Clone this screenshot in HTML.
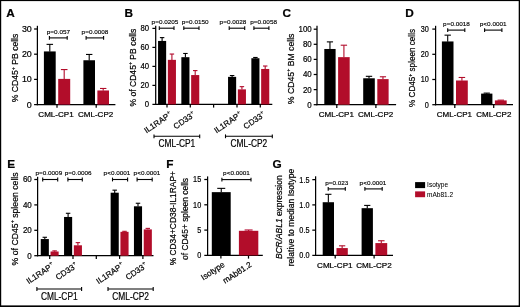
<!DOCTYPE html>
<html lang="en"><head><meta charset="utf-8"><title>Figure</title>
<style>
html,body{margin:0;padding:0;background:#fff;}
body{width:520px;height:307px;overflow:hidden;font-family:"Liberation Sans", Arial, Helvetica, sans-serif;}
svg{display:block;}
</style></head>
<body>
<svg width="520" height="307" viewBox="0 0 520 307" font-family='"Liberation Sans", Arial, Helvetica, sans-serif' stroke-linejoin="round">
<defs><filter id="soft" x="0" y="0" width="520" height="307" filterUnits="userSpaceOnUse"><feGaussianBlur stdDeviation="0.40"/></filter></defs><g filter="url(#soft)">
<text transform="translate(6.30,16.80)" font-size="11.80" text-anchor="start" font-weight="bold" fill="#000" stroke="#000" stroke-width="0.22">A</text>
<line x1="37.40" y1="25.80" x2="37.40" y2="105.22" stroke="#000" stroke-width="1.25"/>
<line x1="34.10" y1="104.60" x2="37.40" y2="104.60" stroke="#000" stroke-width="1.25"/>
<text transform="translate(31.80,107.58)" font-size="8.90" text-anchor="end" fill="#000" stroke="#000" stroke-width="0.22">0</text>
<line x1="34.10" y1="79.40" x2="37.40" y2="79.40" stroke="#000" stroke-width="1.25"/>
<text transform="translate(31.80,82.38)" font-size="8.90" text-anchor="end" fill="#000" stroke="#000" stroke-width="0.22">10</text>
<line x1="34.10" y1="54.20" x2="37.40" y2="54.20" stroke="#000" stroke-width="1.25"/>
<text transform="translate(31.80,57.18)" font-size="8.90" text-anchor="end" fill="#000" stroke="#000" stroke-width="0.22">20</text>
<line x1="34.10" y1="29.00" x2="37.40" y2="29.00" stroke="#000" stroke-width="1.25"/>
<text transform="translate(31.80,31.98)" font-size="8.90" text-anchor="end" fill="#000" stroke="#000" stroke-width="0.22">30</text>
<line x1="36.77" y1="104.60" x2="115.40" y2="104.60" stroke="#000" stroke-width="1.25"/>
<line x1="57.00" y1="104.60" x2="57.00" y2="107.80" stroke="#000" stroke-width="1.25"/>
<line x1="96.20" y1="104.60" x2="96.20" y2="107.80" stroke="#000" stroke-width="1.25"/>
<rect x="43.90" y="51.43" width="11.80" height="53.17" fill="#000"/>
<line x1="49.80" y1="44.37" x2="49.80" y2="51.63" stroke="#000" stroke-width="1.10"/>
<line x1="46.55" y1="44.37" x2="53.05" y2="44.37" stroke="#000" stroke-width="1.10"/>
<rect x="58.20" y="78.90" width="12.00" height="25.70" fill="#B20B2B"/>
<line x1="64.20" y1="69.57" x2="64.20" y2="79.10" stroke="#B20B2B" stroke-width="1.10"/>
<line x1="60.90" y1="69.57" x2="67.50" y2="69.57" stroke="#B20B2B" stroke-width="1.10"/>
<rect x="83.40" y="60.25" width="11.60" height="44.35" fill="#000"/>
<line x1="89.20" y1="54.45" x2="89.20" y2="60.45" stroke="#000" stroke-width="1.10"/>
<line x1="86.01" y1="54.45" x2="92.39" y2="54.45" stroke="#000" stroke-width="1.10"/>
<rect x="97.40" y="90.49" width="11.60" height="14.11" fill="#B20B2B"/>
<line x1="103.20" y1="88.47" x2="103.20" y2="90.69" stroke="#B20B2B" stroke-width="1.10"/>
<line x1="100.01" y1="88.47" x2="106.39" y2="88.47" stroke="#B20B2B" stroke-width="1.10"/>
<line x1="49.40" y1="37.90" x2="67.20" y2="37.90" stroke="#000" stroke-width="1.10"/>
<line x1="49.40" y1="36.00" x2="49.40" y2="39.80" stroke="#000" stroke-width="1.10"/>
<line x1="67.20" y1="36.00" x2="67.20" y2="39.80" stroke="#000" stroke-width="1.10"/>
<text transform="translate(58.40,33.80) scale(1.065,1)" font-size="6.00" text-anchor="middle" fill="#000" stroke="#000" stroke-width="0.14">p=0.057</text>
<line x1="86.10" y1="37.90" x2="103.60" y2="37.90" stroke="#000" stroke-width="1.10"/>
<line x1="86.10" y1="36.00" x2="86.10" y2="39.80" stroke="#000" stroke-width="1.10"/>
<line x1="103.60" y1="36.00" x2="103.60" y2="39.80" stroke="#000" stroke-width="1.10"/>
<text transform="translate(95.00,33.80) scale(1.065,1)" font-size="6.00" text-anchor="middle" fill="#000" stroke="#000" stroke-width="0.14">p=0.0008</text>
<text transform="translate(56.00,117.10)" font-size="8.05" text-anchor="middle" fill="#000" stroke="#000" stroke-width="0.22">CML-CP1</text>
<text transform="translate(95.60,117.10)" font-size="8.05" text-anchor="middle" fill="#000" stroke="#000" stroke-width="0.22">CML-CP2</text>
<text transform="translate(18.00,67.95) rotate(-90) scale(0.916,1)" font-size="9.40" text-anchor="middle" fill="#000" stroke="#000" stroke-width="0.22">% CD45<tspan font-size="5.83" dy="-3.38">+</tspan><tspan dy="3.38"> PB cells</tspan></text>
<text transform="translate(124.60,16.80)" font-size="11.80" text-anchor="start" font-weight="bold" fill="#000" stroke="#000" stroke-width="0.22">B</text>
<line x1="155.70" y1="25.80" x2="155.70" y2="105.03" stroke="#000" stroke-width="1.25"/>
<line x1="152.40" y1="104.40" x2="155.70" y2="104.40" stroke="#000" stroke-width="1.25"/>
<text transform="translate(149.10,107.38) scale(0.870,1)" font-size="8.90" text-anchor="end" fill="#000" stroke="#000" stroke-width="0.22">0</text>
<line x1="152.40" y1="85.40" x2="155.70" y2="85.40" stroke="#000" stroke-width="1.25"/>
<text transform="translate(149.10,88.38) scale(0.870,1)" font-size="8.90" text-anchor="end" fill="#000" stroke="#000" stroke-width="0.22">20</text>
<line x1="152.40" y1="66.40" x2="155.70" y2="66.40" stroke="#000" stroke-width="1.25"/>
<text transform="translate(149.10,69.38) scale(0.870,1)" font-size="8.90" text-anchor="end" fill="#000" stroke="#000" stroke-width="0.22">40</text>
<line x1="152.40" y1="47.40" x2="155.70" y2="47.40" stroke="#000" stroke-width="1.25"/>
<text transform="translate(149.10,50.38) scale(0.870,1)" font-size="8.90" text-anchor="end" fill="#000" stroke="#000" stroke-width="0.22">60</text>
<line x1="152.40" y1="28.40" x2="155.70" y2="28.40" stroke="#000" stroke-width="1.25"/>
<text transform="translate(149.10,31.38) scale(0.870,1)" font-size="8.90" text-anchor="end" fill="#000" stroke="#000" stroke-width="0.22">80</text>
<line x1="155.07" y1="104.40" x2="272.30" y2="104.40" stroke="#000" stroke-width="1.25"/>
<line x1="167.00" y1="104.40" x2="167.00" y2="107.60" stroke="#000" stroke-width="1.25"/>
<line x1="190.30" y1="104.40" x2="190.30" y2="107.60" stroke="#000" stroke-width="1.25"/>
<line x1="213.60" y1="104.40" x2="213.60" y2="107.60" stroke="#000" stroke-width="1.25"/>
<line x1="237.00" y1="104.40" x2="237.00" y2="107.60" stroke="#000" stroke-width="1.25"/>
<line x1="260.30" y1="104.40" x2="260.30" y2="107.60" stroke="#000" stroke-width="1.25"/>
<rect x="158.05" y="40.94" width="8.10" height="63.46" fill="#000"/>
<line x1="162.10" y1="37.62" x2="162.10" y2="41.14" stroke="#000" stroke-width="1.10"/>
<line x1="159.87" y1="37.62" x2="164.33" y2="37.62" stroke="#000" stroke-width="1.10"/>
<rect x="167.85" y="59.85" width="8.10" height="44.55" fill="#B20B2B"/>
<line x1="171.90" y1="54.05" x2="171.90" y2="60.05" stroke="#B20B2B" stroke-width="1.10"/>
<line x1="169.67" y1="54.05" x2="174.13" y2="54.05" stroke="#B20B2B" stroke-width="1.10"/>
<rect x="181.35" y="57.19" width="8.10" height="47.22" fill="#000"/>
<line x1="185.40" y1="53.48" x2="185.40" y2="57.39" stroke="#000" stroke-width="1.10"/>
<line x1="183.17" y1="53.48" x2="187.63" y2="53.48" stroke="#000" stroke-width="1.10"/>
<rect x="191.15" y="75.05" width="8.10" height="29.35" fill="#B20B2B"/>
<line x1="195.20" y1="70.58" x2="195.20" y2="75.25" stroke="#B20B2B" stroke-width="1.10"/>
<line x1="192.97" y1="70.58" x2="197.43" y2="70.58" stroke="#B20B2B" stroke-width="1.10"/>
<rect x="228.05" y="76.85" width="8.10" height="27.55" fill="#000"/>
<line x1="232.10" y1="75.52" x2="232.10" y2="77.05" stroke="#000" stroke-width="1.10"/>
<line x1="229.87" y1="75.52" x2="234.33" y2="75.52" stroke="#000" stroke-width="1.10"/>
<rect x="237.85" y="89.39" width="8.10" height="15.01" fill="#B20B2B"/>
<line x1="241.90" y1="86.64" x2="241.90" y2="89.59" stroke="#B20B2B" stroke-width="1.10"/>
<line x1="239.67" y1="86.64" x2="244.13" y2="86.64" stroke="#B20B2B" stroke-width="1.10"/>
<rect x="251.35" y="58.23" width="8.10" height="46.17" fill="#000"/>
<line x1="255.40" y1="57.47" x2="255.40" y2="58.43" stroke="#000" stroke-width="1.10"/>
<line x1="253.17" y1="57.47" x2="257.63" y2="57.47" stroke="#000" stroke-width="1.10"/>
<rect x="261.15" y="68.97" width="8.10" height="35.44" fill="#B20B2B"/>
<line x1="265.20" y1="66.02" x2="265.20" y2="69.17" stroke="#B20B2B" stroke-width="1.10"/>
<line x1="262.97" y1="66.02" x2="267.43" y2="66.02" stroke="#B20B2B" stroke-width="1.10"/>
<line x1="159.30" y1="28.20" x2="174.00" y2="28.20" stroke="#000" stroke-width="1.10"/>
<line x1="159.30" y1="26.30" x2="159.30" y2="30.10" stroke="#000" stroke-width="1.10"/>
<line x1="174.00" y1="26.30" x2="174.00" y2="30.10" stroke="#000" stroke-width="1.10"/>
<text transform="translate(165.00,24.00) scale(1.065,1)" font-size="6.00" text-anchor="middle" fill="#000" stroke="#000" stroke-width="0.14">p=0.0205</text>
<line x1="183.80" y1="28.20" x2="199.00" y2="28.20" stroke="#000" stroke-width="1.10"/>
<line x1="183.80" y1="26.30" x2="183.80" y2="30.10" stroke="#000" stroke-width="1.10"/>
<line x1="199.00" y1="26.30" x2="199.00" y2="30.10" stroke="#000" stroke-width="1.10"/>
<text transform="translate(195.20,24.00) scale(1.065,1)" font-size="6.00" text-anchor="middle" fill="#000" stroke="#000" stroke-width="0.14">p=0.0150</text>
<line x1="229.20" y1="28.20" x2="244.70" y2="28.20" stroke="#000" stroke-width="1.10"/>
<line x1="229.20" y1="26.30" x2="229.20" y2="30.10" stroke="#000" stroke-width="1.10"/>
<line x1="244.70" y1="26.30" x2="244.70" y2="30.10" stroke="#000" stroke-width="1.10"/>
<text transform="translate(233.00,24.00) scale(1.065,1)" font-size="6.00" text-anchor="middle" fill="#000" stroke="#000" stroke-width="0.14">p=0.0028</text>
<line x1="253.90" y1="28.20" x2="268.90" y2="28.20" stroke="#000" stroke-width="1.10"/>
<line x1="253.90" y1="26.30" x2="253.90" y2="30.10" stroke="#000" stroke-width="1.10"/>
<line x1="268.90" y1="26.30" x2="268.90" y2="30.10" stroke="#000" stroke-width="1.10"/>
<text transform="translate(263.60,24.00) scale(1.065,1)" font-size="6.00" text-anchor="middle" fill="#000" stroke="#000" stroke-width="0.14">p=0.0058</text>
<text transform="translate(172.50,115.90) rotate(-34.00)" font-size="8.15" text-anchor="end" fill="#000" stroke="#000" stroke-width="0.22">IL1RAP<tspan font-size="5.22" dy="-3.59" dx="0.3">+</tspan></text>
<text transform="translate(195.80,115.90) rotate(-34.00)" font-size="8.15" text-anchor="end" fill="#000" stroke="#000" stroke-width="0.22">CD33<tspan font-size="5.22" dy="-3.59" dx="0.3">+</tspan></text>
<text transform="translate(242.50,115.90) rotate(-34.00)" font-size="8.15" text-anchor="end" fill="#000" stroke="#000" stroke-width="0.22">IL1RAP<tspan font-size="5.22" dy="-3.59" dx="0.3">+</tspan></text>
<text transform="translate(265.80,115.90) rotate(-34.00)" font-size="8.15" text-anchor="end" fill="#000" stroke="#000" stroke-width="0.22">CD33<tspan font-size="5.22" dy="-3.59" dx="0.3">+</tspan></text>
<line x1="154.00" y1="136.30" x2="199.70" y2="136.30" stroke="#000" stroke-width="1.10"/>
<line x1="154.00" y1="134.40" x2="154.00" y2="138.20" stroke="#000" stroke-width="1.10"/>
<line x1="199.70" y1="134.40" x2="199.70" y2="138.20" stroke="#000" stroke-width="1.10"/>
<text transform="translate(176.85,147.10) scale(0.790,1)" font-size="10.60" text-anchor="middle" fill="#000" stroke="#000" stroke-width="0.22">CML-CP1</text>
<line x1="225.50" y1="136.30" x2="272.30" y2="136.30" stroke="#000" stroke-width="1.10"/>
<line x1="225.50" y1="134.40" x2="225.50" y2="138.20" stroke="#000" stroke-width="1.10"/>
<line x1="272.30" y1="134.40" x2="272.30" y2="138.20" stroke="#000" stroke-width="1.10"/>
<text transform="translate(248.90,147.10) scale(0.790,1)" font-size="10.60" text-anchor="middle" fill="#000" stroke="#000" stroke-width="0.22">CML-CP2</text>
<text transform="translate(135.50,67.60) rotate(-90) scale(0.911,1)" font-size="9.40" text-anchor="middle" fill="#000" stroke="#000" stroke-width="0.22">% of CD45<tspan font-size="5.83" dy="-3.38">+</tspan><tspan dy="3.38"> PB cells</tspan></text>
<text transform="translate(282.60,17.10)" font-size="11.80" text-anchor="start" font-weight="bold" fill="#000" stroke="#000" stroke-width="0.22">C</text>
<line x1="317.00" y1="25.80" x2="317.00" y2="105.33" stroke="#000" stroke-width="1.25"/>
<line x1="313.70" y1="104.70" x2="317.00" y2="104.70" stroke="#000" stroke-width="1.25"/>
<text transform="translate(311.70,107.68) scale(0.890,1)" font-size="8.90" text-anchor="end" fill="#000" stroke="#000" stroke-width="0.22">0</text>
<line x1="313.70" y1="89.60" x2="317.00" y2="89.60" stroke="#000" stroke-width="1.25"/>
<text transform="translate(311.70,92.58) scale(0.890,1)" font-size="8.90" text-anchor="end" fill="#000" stroke="#000" stroke-width="0.22">20</text>
<line x1="313.70" y1="74.50" x2="317.00" y2="74.50" stroke="#000" stroke-width="1.25"/>
<text transform="translate(311.70,77.48) scale(0.890,1)" font-size="8.90" text-anchor="end" fill="#000" stroke="#000" stroke-width="0.22">40</text>
<line x1="313.70" y1="59.40" x2="317.00" y2="59.40" stroke="#000" stroke-width="1.25"/>
<text transform="translate(311.70,62.38) scale(0.890,1)" font-size="8.90" text-anchor="end" fill="#000" stroke="#000" stroke-width="0.22">60</text>
<line x1="313.70" y1="44.30" x2="317.00" y2="44.30" stroke="#000" stroke-width="1.25"/>
<text transform="translate(311.70,47.28) scale(0.890,1)" font-size="8.90" text-anchor="end" fill="#000" stroke="#000" stroke-width="0.22">80</text>
<line x1="313.70" y1="29.20" x2="317.00" y2="29.20" stroke="#000" stroke-width="1.25"/>
<text transform="translate(311.70,32.18) scale(0.890,1)" font-size="8.90" text-anchor="end" fill="#000" stroke="#000" stroke-width="0.22">100</text>
<line x1="316.38" y1="104.70" x2="396.10" y2="104.70" stroke="#000" stroke-width="1.25"/>
<line x1="336.80" y1="104.70" x2="336.80" y2="107.90" stroke="#000" stroke-width="1.25"/>
<line x1="375.90" y1="104.70" x2="375.90" y2="107.90" stroke="#000" stroke-width="1.25"/>
<rect x="324.30" y="48.98" width="11.30" height="55.72" fill="#000"/>
<line x1="329.95" y1="41.88" x2="329.95" y2="49.18" stroke="#000" stroke-width="1.10"/>
<line x1="326.84" y1="41.88" x2="333.06" y2="41.88" stroke="#000" stroke-width="1.10"/>
<rect x="338.10" y="57.14" width="11.60" height="47.56" fill="#B20B2B"/>
<line x1="343.90" y1="45.21" x2="343.90" y2="57.34" stroke="#B20B2B" stroke-width="1.10"/>
<line x1="340.71" y1="45.21" x2="347.09" y2="45.21" stroke="#B20B2B" stroke-width="1.10"/>
<rect x="363.20" y="78.28" width="11.60" height="26.42" fill="#000"/>
<line x1="369.00" y1="76.31" x2="369.00" y2="78.48" stroke="#000" stroke-width="1.10"/>
<line x1="365.81" y1="76.31" x2="372.19" y2="76.31" stroke="#000" stroke-width="1.10"/>
<rect x="377.30" y="79.11" width="11.30" height="25.59" fill="#B20B2B"/>
<line x1="382.95" y1="76.77" x2="382.95" y2="79.31" stroke="#B20B2B" stroke-width="1.10"/>
<line x1="379.84" y1="76.77" x2="386.06" y2="76.77" stroke="#B20B2B" stroke-width="1.10"/>
<text transform="translate(336.30,117.10)" font-size="8.05" text-anchor="middle" fill="#000" stroke="#000" stroke-width="0.22">CML-CP1</text>
<text transform="translate(375.60,117.10)" font-size="8.05" text-anchor="middle" fill="#000" stroke="#000" stroke-width="0.22">CML-CP2</text>
<text transform="translate(293.60,68.85) rotate(-90) scale(0.924,1)" font-size="9.40" text-anchor="middle" fill="#000" stroke="#000" stroke-width="0.22">% CD45<tspan font-size="5.83" dy="-3.38">+</tspan><tspan dy="3.38"> BM cells</tspan></text>
<text transform="translate(405.20,16.80)" font-size="11.80" text-anchor="start" font-weight="bold" fill="#000" stroke="#000" stroke-width="0.22">D</text>
<line x1="435.60" y1="25.80" x2="435.60" y2="105.33" stroke="#000" stroke-width="1.25"/>
<line x1="432.30" y1="104.70" x2="435.60" y2="104.70" stroke="#000" stroke-width="1.25"/>
<text transform="translate(428.80,107.68) scale(0.820,1)" font-size="8.90" text-anchor="end" fill="#000" stroke="#000" stroke-width="0.22">0</text>
<line x1="432.30" y1="79.50" x2="435.60" y2="79.50" stroke="#000" stroke-width="1.25"/>
<text transform="translate(428.80,82.48) scale(0.820,1)" font-size="8.90" text-anchor="end" fill="#000" stroke="#000" stroke-width="0.22">10</text>
<line x1="432.30" y1="54.30" x2="435.60" y2="54.30" stroke="#000" stroke-width="1.25"/>
<text transform="translate(428.80,57.28) scale(0.820,1)" font-size="8.90" text-anchor="end" fill="#000" stroke="#000" stroke-width="0.22">20</text>
<line x1="432.30" y1="29.10" x2="435.60" y2="29.10" stroke="#000" stroke-width="1.25"/>
<text transform="translate(428.80,32.08) scale(0.820,1)" font-size="8.90" text-anchor="end" fill="#000" stroke="#000" stroke-width="0.22">30</text>
<line x1="434.98" y1="104.70" x2="513.00" y2="104.70" stroke="#000" stroke-width="1.25"/>
<line x1="454.80" y1="104.70" x2="454.80" y2="107.90" stroke="#000" stroke-width="1.25"/>
<line x1="493.70" y1="104.70" x2="493.70" y2="107.90" stroke="#000" stroke-width="1.25"/>
<rect x="441.90" y="41.45" width="11.60" height="63.25" fill="#000"/>
<line x1="447.70" y1="35.15" x2="447.70" y2="41.65" stroke="#000" stroke-width="1.10"/>
<line x1="444.51" y1="35.15" x2="450.89" y2="35.15" stroke="#000" stroke-width="1.10"/>
<rect x="456.00" y="80.51" width="11.80" height="24.19" fill="#B20B2B"/>
<line x1="461.90" y1="77.48" x2="461.90" y2="80.71" stroke="#B20B2B" stroke-width="1.10"/>
<line x1="458.65" y1="77.48" x2="465.14" y2="77.48" stroke="#B20B2B" stroke-width="1.10"/>
<rect x="481.10" y="93.61" width="11.30" height="11.09" fill="#000"/>
<line x1="486.75" y1="93.11" x2="486.75" y2="93.81" stroke="#000" stroke-width="1.10"/>
<line x1="483.64" y1="93.11" x2="489.86" y2="93.11" stroke="#000" stroke-width="1.10"/>
<rect x="494.90" y="100.42" width="11.80" height="4.28" fill="#B20B2B"/>
<line x1="500.80" y1="100.16" x2="500.80" y2="100.62" stroke="#B20B2B" stroke-width="1.10"/>
<line x1="497.55" y1="100.16" x2="504.04" y2="100.16" stroke="#B20B2B" stroke-width="1.10"/>
<line x1="447.70" y1="30.10" x2="464.80" y2="30.10" stroke="#000" stroke-width="1.10"/>
<line x1="447.70" y1="28.20" x2="447.70" y2="32.00" stroke="#000" stroke-width="1.10"/>
<line x1="464.80" y1="28.20" x2="464.80" y2="32.00" stroke="#000" stroke-width="1.10"/>
<text transform="translate(456.50,25.70) scale(1.065,1)" font-size="6.00" text-anchor="middle" fill="#000" stroke="#000" stroke-width="0.14">p=0.0018</text>
<line x1="484.60" y1="30.10" x2="501.90" y2="30.10" stroke="#000" stroke-width="1.10"/>
<line x1="484.60" y1="28.20" x2="484.60" y2="32.00" stroke="#000" stroke-width="1.10"/>
<line x1="501.90" y1="28.20" x2="501.90" y2="32.00" stroke="#000" stroke-width="1.10"/>
<text transform="translate(493.20,25.70) scale(1.065,1)" font-size="6.00" text-anchor="middle" fill="#000" stroke="#000" stroke-width="0.14">p&lt;0.0001</text>
<text transform="translate(454.40,117.10)" font-size="8.00" text-anchor="middle" fill="#000" stroke="#000" stroke-width="0.22">CML-CP1</text>
<text transform="translate(493.80,117.10)" font-size="8.00" text-anchor="middle" fill="#000" stroke="#000" stroke-width="0.22">CML-CP2</text>
<text transform="translate(415.20,67.95) rotate(-90) scale(0.866,1)" font-size="9.40" text-anchor="middle" fill="#000" stroke="#000" stroke-width="0.22">% CD45<tspan font-size="5.83" dy="-3.38">+</tspan><tspan dy="3.38"> spleen cells</tspan></text>
<text transform="translate(7.20,168.10)" font-size="11.80" text-anchor="start" font-weight="bold" fill="#000" stroke="#000" stroke-width="0.22">E</text>
<line x1="37.60" y1="176.80" x2="37.60" y2="256.32" stroke="#000" stroke-width="1.25"/>
<line x1="34.30" y1="255.70" x2="37.60" y2="255.70" stroke="#000" stroke-width="1.25"/>
<text transform="translate(31.80,258.68) scale(0.900,1)" font-size="8.90" text-anchor="end" fill="#000" stroke="#000" stroke-width="0.22">0</text>
<line x1="34.30" y1="230.30" x2="37.60" y2="230.30" stroke="#000" stroke-width="1.25"/>
<text transform="translate(31.80,233.28) scale(0.900,1)" font-size="8.90" text-anchor="end" fill="#000" stroke="#000" stroke-width="0.22">20</text>
<line x1="34.30" y1="204.90" x2="37.60" y2="204.90" stroke="#000" stroke-width="1.25"/>
<text transform="translate(31.80,207.88) scale(0.900,1)" font-size="8.90" text-anchor="end" fill="#000" stroke="#000" stroke-width="0.22">40</text>
<line x1="34.30" y1="179.50" x2="37.60" y2="179.50" stroke="#000" stroke-width="1.25"/>
<text transform="translate(31.80,182.48) scale(0.900,1)" font-size="8.90" text-anchor="end" fill="#000" stroke="#000" stroke-width="0.22">60</text>
<line x1="36.98" y1="255.70" x2="153.50" y2="255.70" stroke="#000" stroke-width="1.25"/>
<line x1="49.70" y1="255.70" x2="49.70" y2="258.90" stroke="#000" stroke-width="1.25"/>
<line x1="73.00" y1="255.70" x2="73.00" y2="258.90" stroke="#000" stroke-width="1.25"/>
<line x1="96.30" y1="255.70" x2="96.30" y2="258.90" stroke="#000" stroke-width="1.25"/>
<line x1="119.60" y1="255.70" x2="119.60" y2="258.90" stroke="#000" stroke-width="1.25"/>
<line x1="142.90" y1="255.70" x2="142.90" y2="258.90" stroke="#000" stroke-width="1.25"/>
<rect x="40.75" y="239.06" width="8.10" height="16.64" fill="#000"/>
<line x1="44.80" y1="237.28" x2="44.80" y2="239.26" stroke="#000" stroke-width="1.10"/>
<line x1="42.57" y1="237.28" x2="47.03" y2="237.28" stroke="#000" stroke-width="1.10"/>
<rect x="50.55" y="251.51" width="8.10" height="4.19" fill="#B20B2B"/>
<line x1="54.60" y1="250.87" x2="54.60" y2="251.71" stroke="#B20B2B" stroke-width="1.10"/>
<line x1="52.37" y1="250.87" x2="56.83" y2="250.87" stroke="#B20B2B" stroke-width="1.10"/>
<rect x="64.05" y="216.96" width="8.10" height="38.74" fill="#000"/>
<line x1="68.10" y1="213.28" x2="68.10" y2="217.16" stroke="#000" stroke-width="1.10"/>
<line x1="65.87" y1="213.28" x2="70.33" y2="213.28" stroke="#000" stroke-width="1.10"/>
<rect x="73.85" y="245.29" width="8.10" height="10.41" fill="#B20B2B"/>
<line x1="77.90" y1="242.62" x2="77.90" y2="245.49" stroke="#B20B2B" stroke-width="1.10"/>
<line x1="75.67" y1="242.62" x2="80.13" y2="242.62" stroke="#B20B2B" stroke-width="1.10"/>
<rect x="110.65" y="192.71" width="8.10" height="62.99" fill="#000"/>
<line x1="114.70" y1="190.17" x2="114.70" y2="192.91" stroke="#000" stroke-width="1.10"/>
<line x1="112.47" y1="190.17" x2="116.93" y2="190.17" stroke="#000" stroke-width="1.10"/>
<rect x="120.45" y="231.82" width="8.10" height="23.88" fill="#B20B2B"/>
<line x1="124.50" y1="231.32" x2="124.50" y2="232.02" stroke="#B20B2B" stroke-width="1.10"/>
<line x1="122.27" y1="231.32" x2="126.73" y2="231.32" stroke="#B20B2B" stroke-width="1.10"/>
<rect x="133.95" y="206.30" width="8.10" height="49.40" fill="#000"/>
<line x1="138.00" y1="203.25" x2="138.00" y2="206.50" stroke="#000" stroke-width="1.10"/>
<line x1="135.77" y1="203.25" x2="140.23" y2="203.25" stroke="#000" stroke-width="1.10"/>
<rect x="143.75" y="229.41" width="8.10" height="26.29" fill="#B20B2B"/>
<line x1="147.80" y1="228.39" x2="147.80" y2="229.61" stroke="#B20B2B" stroke-width="1.10"/>
<line x1="145.57" y1="228.39" x2="150.03" y2="228.39" stroke="#B20B2B" stroke-width="1.10"/>
<line x1="42.70" y1="179.50" x2="57.70" y2="179.50" stroke="#000" stroke-width="1.10"/>
<line x1="42.70" y1="177.60" x2="42.70" y2="181.40" stroke="#000" stroke-width="1.10"/>
<line x1="57.70" y1="177.60" x2="57.70" y2="181.40" stroke="#000" stroke-width="1.10"/>
<text transform="translate(48.80,175.40) scale(1.065,1)" font-size="6.00" text-anchor="middle" fill="#000" stroke="#000" stroke-width="0.14">p=0.0009</text>
<line x1="67.90" y1="179.50" x2="82.30" y2="179.50" stroke="#000" stroke-width="1.10"/>
<line x1="67.90" y1="177.60" x2="67.90" y2="181.40" stroke="#000" stroke-width="1.10"/>
<line x1="82.30" y1="177.60" x2="82.30" y2="181.40" stroke="#000" stroke-width="1.10"/>
<text transform="translate(78.20,175.40) scale(1.065,1)" font-size="6.00" text-anchor="middle" fill="#000" stroke="#000" stroke-width="0.14">p=0.0006</text>
<line x1="112.50" y1="179.50" x2="127.60" y2="179.50" stroke="#000" stroke-width="1.10"/>
<line x1="112.50" y1="177.60" x2="112.50" y2="181.40" stroke="#000" stroke-width="1.10"/>
<line x1="127.60" y1="177.60" x2="127.60" y2="181.40" stroke="#000" stroke-width="1.10"/>
<text transform="translate(117.00,175.40) scale(1.065,1)" font-size="6.00" text-anchor="middle" fill="#000" stroke="#000" stroke-width="0.14">p&lt;0.0001</text>
<line x1="137.10" y1="179.50" x2="152.20" y2="179.50" stroke="#000" stroke-width="1.10"/>
<line x1="137.10" y1="177.60" x2="137.10" y2="181.40" stroke="#000" stroke-width="1.10"/>
<line x1="152.20" y1="177.60" x2="152.20" y2="181.40" stroke="#000" stroke-width="1.10"/>
<text transform="translate(147.00,175.40) scale(1.065,1)" font-size="6.00" text-anchor="middle" fill="#000" stroke="#000" stroke-width="0.14">p&lt;0.0001</text>
<text transform="translate(54.70,266.80) rotate(-34.00)" font-size="8.15" text-anchor="end" fill="#000" stroke="#000" stroke-width="0.22">IL1RAP<tspan font-size="5.22" dy="-3.59" dx="0.3">+</tspan></text>
<text transform="translate(78.00,266.80) rotate(-34.00)" font-size="8.15" text-anchor="end" fill="#000" stroke="#000" stroke-width="0.22">CD33<tspan font-size="5.22" dy="-3.59" dx="0.3">+</tspan></text>
<text transform="translate(124.60,266.80) rotate(-34.00)" font-size="8.15" text-anchor="end" fill="#000" stroke="#000" stroke-width="0.22">IL1RAP<tspan font-size="5.22" dy="-3.59" dx="0.3">+</tspan></text>
<text transform="translate(147.90,266.80) rotate(-34.00)" font-size="8.15" text-anchor="end" fill="#000" stroke="#000" stroke-width="0.22">CD33<tspan font-size="5.22" dy="-3.59" dx="0.3">+</tspan></text>
<line x1="36.90" y1="289.00" x2="81.60" y2="289.00" stroke="#000" stroke-width="1.10"/>
<line x1="36.90" y1="287.10" x2="36.90" y2="290.90" stroke="#000" stroke-width="1.10"/>
<line x1="81.60" y1="287.10" x2="81.60" y2="290.90" stroke="#000" stroke-width="1.10"/>
<text transform="translate(59.25,299.80) scale(0.790,1)" font-size="10.60" text-anchor="middle" fill="#000" stroke="#000" stroke-width="0.22">CML-CP1</text>
<line x1="108.00" y1="289.00" x2="153.20" y2="289.00" stroke="#000" stroke-width="1.10"/>
<line x1="108.00" y1="287.10" x2="108.00" y2="290.90" stroke="#000" stroke-width="1.10"/>
<line x1="153.20" y1="287.10" x2="153.20" y2="290.90" stroke="#000" stroke-width="1.10"/>
<text transform="translate(130.60,299.80) scale(0.790,1)" font-size="10.60" text-anchor="middle" fill="#000" stroke="#000" stroke-width="0.22">CML-CP2</text>
<text transform="translate(17.70,218.90) rotate(-90) scale(0.925,1)" font-size="9.40" text-anchor="middle" fill="#000" stroke="#000" stroke-width="0.22">% of CD45<tspan font-size="5.83" dy="-3.38">+</tspan><tspan dy="3.38"> spleen cells</tspan></text>
<text transform="translate(166.20,168.10)" font-size="11.80" text-anchor="start" font-weight="bold" fill="#000" stroke="#000" stroke-width="0.22">F</text>
<line x1="207.60" y1="176.40" x2="207.60" y2="256.02" stroke="#000" stroke-width="1.25"/>
<line x1="204.30" y1="255.40" x2="207.60" y2="255.40" stroke="#000" stroke-width="1.25"/>
<text transform="translate(201.20,258.38) scale(0.820,1)" font-size="8.90" text-anchor="end" fill="#000" stroke="#000" stroke-width="0.22">0</text>
<line x1="204.30" y1="230.10" x2="207.60" y2="230.10" stroke="#000" stroke-width="1.25"/>
<text transform="translate(201.20,233.08) scale(0.820,1)" font-size="8.90" text-anchor="end" fill="#000" stroke="#000" stroke-width="0.22">5</text>
<line x1="204.30" y1="204.80" x2="207.60" y2="204.80" stroke="#000" stroke-width="1.25"/>
<text transform="translate(201.20,207.78) scale(0.820,1)" font-size="8.90" text-anchor="end" fill="#000" stroke="#000" stroke-width="0.22">10</text>
<line x1="204.30" y1="179.50" x2="207.60" y2="179.50" stroke="#000" stroke-width="1.25"/>
<text transform="translate(201.20,182.48) scale(0.820,1)" font-size="8.90" text-anchor="end" fill="#000" stroke="#000" stroke-width="0.22">15</text>
<line x1="206.97" y1="255.40" x2="262.80" y2="255.40" stroke="#000" stroke-width="1.25"/>
<line x1="220.90" y1="255.40" x2="220.90" y2="258.60" stroke="#000" stroke-width="1.25"/>
<line x1="248.50" y1="255.40" x2="248.50" y2="258.60" stroke="#000" stroke-width="1.25"/>
<rect x="211.80" y="192.15" width="18.90" height="63.25" fill="#000"/>
<line x1="221.25" y1="188.36" x2="221.25" y2="192.35" stroke="#000" stroke-width="1.10"/>
<line x1="217.25" y1="188.36" x2="225.25" y2="188.36" stroke="#000" stroke-width="1.10"/>
<rect x="238.90" y="230.81" width="19.40" height="24.59" fill="#B20B2B"/>
<line x1="248.60" y1="230.00" x2="248.60" y2="231.01" stroke="#B20B2B" stroke-width="1.10"/>
<line x1="244.60" y1="230.00" x2="252.60" y2="230.00" stroke="#B20B2B" stroke-width="1.10"/>
<line x1="221.90" y1="179.60" x2="251.00" y2="179.60" stroke="#000" stroke-width="1.10"/>
<line x1="221.90" y1="177.70" x2="221.90" y2="181.50" stroke="#000" stroke-width="1.10"/>
<line x1="251.00" y1="177.70" x2="251.00" y2="181.50" stroke="#000" stroke-width="1.10"/>
<text transform="translate(236.50,175.10) scale(1.065,1)" font-size="6.00" text-anchor="middle" fill="#000" stroke="#000" stroke-width="0.14">p&lt;0.0001</text>
<text transform="translate(225.40,266.00) rotate(-33.00)" font-size="8.20" text-anchor="end" fill="#000" stroke="#000" stroke-width="0.22">Isotype</text>
<text transform="translate(252.40,266.00) rotate(-33.00)" font-size="8.20" text-anchor="end" fill="#000" stroke="#000" stroke-width="0.22">mAb81.2</text>
<text transform="translate(176.40,218.20) rotate(-90) scale(0.894,1)" font-size="9.40" text-anchor="middle" fill="#000" stroke="#000" stroke-width="0.22">% CD34+CD38-IL1RAP+</text>
<text transform="translate(188.30,218.95) rotate(-90) scale(0.897,1)" font-size="9.40" text-anchor="middle" fill="#000" stroke="#000" stroke-width="0.22">of CD45+ spleen cells</text>
<text transform="translate(272.40,168.10)" font-size="11.80" text-anchor="start" font-weight="bold" fill="#000" stroke="#000" stroke-width="0.22">G</text>
<line x1="315.60" y1="176.30" x2="315.60" y2="256.02" stroke="#000" stroke-width="1.25"/>
<line x1="312.30" y1="255.40" x2="315.60" y2="255.40" stroke="#000" stroke-width="1.25"/>
<text transform="translate(309.50,258.38) scale(0.820,1)" font-size="8.90" text-anchor="end" fill="#000" stroke="#000" stroke-width="0.22">0.0</text>
<line x1="312.30" y1="230.15" x2="315.60" y2="230.15" stroke="#000" stroke-width="1.25"/>
<text transform="translate(309.50,233.13) scale(0.820,1)" font-size="8.90" text-anchor="end" fill="#000" stroke="#000" stroke-width="0.22">0.5</text>
<line x1="312.30" y1="204.90" x2="315.60" y2="204.90" stroke="#000" stroke-width="1.25"/>
<text transform="translate(309.50,207.88) scale(0.820,1)" font-size="8.90" text-anchor="end" fill="#000" stroke="#000" stroke-width="0.22">1.0</text>
<line x1="312.30" y1="179.65" x2="315.60" y2="179.65" stroke="#000" stroke-width="1.25"/>
<text transform="translate(309.50,182.63) scale(0.820,1)" font-size="8.90" text-anchor="end" fill="#000" stroke="#000" stroke-width="0.22">1.5</text>
<line x1="314.98" y1="255.40" x2="393.00" y2="255.40" stroke="#000" stroke-width="1.25"/>
<line x1="335.20" y1="255.40" x2="335.20" y2="258.60" stroke="#000" stroke-width="1.25"/>
<line x1="374.10" y1="255.40" x2="374.10" y2="258.60" stroke="#000" stroke-width="1.25"/>
<rect x="322.70" y="202.22" width="11.30" height="53.18" fill="#000"/>
<line x1="328.35" y1="194.30" x2="328.35" y2="202.42" stroke="#000" stroke-width="1.10"/>
<line x1="325.24" y1="194.30" x2="331.46" y2="194.30" stroke="#000" stroke-width="1.10"/>
<rect x="336.50" y="248.08" width="11.30" height="7.32" fill="#B20B2B"/>
<line x1="342.15" y1="245.81" x2="342.15" y2="248.28" stroke="#B20B2B" stroke-width="1.10"/>
<line x1="339.04" y1="245.81" x2="345.26" y2="245.81" stroke="#B20B2B" stroke-width="1.10"/>
<rect x="361.60" y="208.18" width="11.30" height="47.22" fill="#000"/>
<line x1="367.25" y1="205.41" x2="367.25" y2="208.38" stroke="#000" stroke-width="1.10"/>
<line x1="364.14" y1="205.41" x2="370.36" y2="205.41" stroke="#000" stroke-width="1.10"/>
<rect x="375.40" y="243.08" width="11.80" height="12.32" fill="#B20B2B"/>
<line x1="381.30" y1="240.75" x2="381.30" y2="243.28" stroke="#B20B2B" stroke-width="1.10"/>
<line x1="378.05" y1="240.75" x2="384.54" y2="240.75" stroke="#B20B2B" stroke-width="1.10"/>
<line x1="328.20" y1="188.90" x2="345.30" y2="188.90" stroke="#000" stroke-width="1.10"/>
<line x1="328.20" y1="187.00" x2="328.20" y2="190.80" stroke="#000" stroke-width="1.10"/>
<line x1="345.30" y1="187.00" x2="345.30" y2="190.80" stroke="#000" stroke-width="1.10"/>
<text transform="translate(336.80,184.60) scale(1.065,1)" font-size="6.00" text-anchor="middle" fill="#000" stroke="#000" stroke-width="0.14">p=0.023</text>
<line x1="364.90" y1="188.90" x2="382.20" y2="188.90" stroke="#000" stroke-width="1.10"/>
<line x1="364.90" y1="187.00" x2="364.90" y2="190.80" stroke="#000" stroke-width="1.10"/>
<line x1="382.20" y1="187.00" x2="382.20" y2="190.80" stroke="#000" stroke-width="1.10"/>
<text transform="translate(373.00,184.60) scale(1.065,1)" font-size="6.00" text-anchor="middle" fill="#000" stroke="#000" stroke-width="0.14">p&lt;0.0001</text>
<text transform="translate(334.80,267.70)" font-size="8.10" text-anchor="middle" fill="#000" stroke="#000" stroke-width="0.22">CML-CP1</text>
<text transform="translate(373.90,267.70)" font-size="8.10" text-anchor="middle" fill="#000" stroke="#000" stroke-width="0.22">CML-CP2</text>
<text transform="translate(282.20,217.25) rotate(-90) scale(0.897,1)" font-size="9.40" text-anchor="middle" fill="#000" stroke="#000" stroke-width="0.22"><tspan font-style="italic">BCR/ABL1</tspan> expression</text>
<text transform="translate(293.80,217.50) rotate(-90) scale(0.911,1)" font-size="9.40" text-anchor="middle" fill="#000" stroke="#000" stroke-width="0.22">relative to median Isotype</text>
<rect x="415.10" y="182.10" width="10.00" height="6.00" fill="#000"/>
<rect x="415.10" y="191.40" width="10.00" height="5.80" fill="#B20B2B"/>
<text transform="translate(427.10,187.40)" font-size="6.50" text-anchor="start" fill="#000" stroke="#000" stroke-width="0.05">Isotype</text>
<text transform="translate(427.10,196.90)" font-size="6.50" text-anchor="start" fill="#000" stroke="#000" stroke-width="0.05">mAb81.2</text>
</g>
<rect x="0.00" y="0.00" width="520.00" height="1.10" fill="#000"/>
<rect x="0.00" y="0.00" width="1.20" height="307.00" fill="#000"/>
<rect x="0.00" y="305.40" width="520.00" height="1.60" fill="#000"/>
<rect x="518.70" y="0.00" width="1.30" height="307.00" fill="#000"/>
</svg>
</body></html>
